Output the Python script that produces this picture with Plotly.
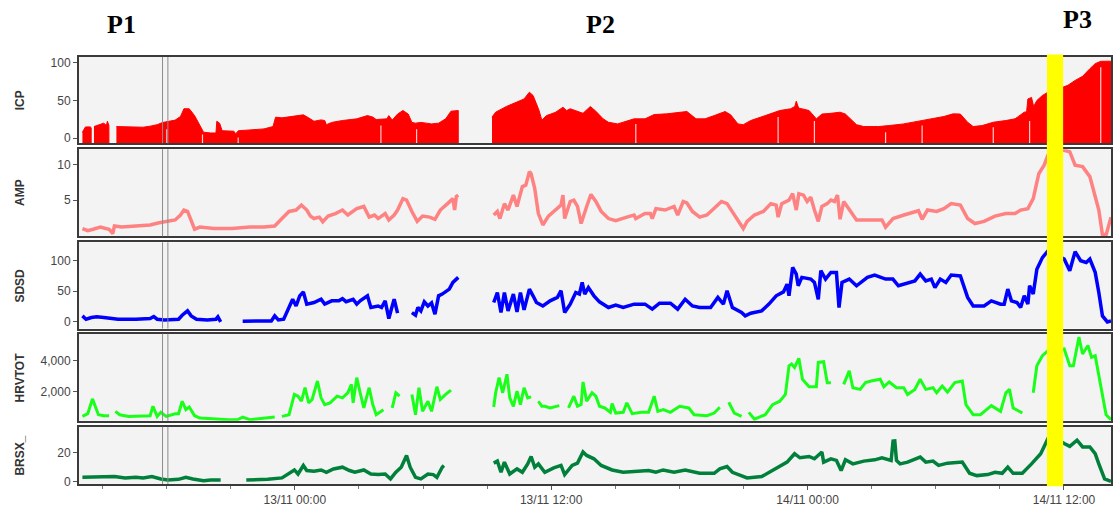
import pandas as pd
import plotly.graph_objects as go
from plotly.subplots import make_subplots

START = pd.Timestamp("2016-11-13 00:00")

# Hours relative to 13/11 00:00; a None value marks a recording gap.
icp_h = [-9.94, -9.80, -9.57, -9.53, -9.47,
         -9.40, -9.10, -8.94, -8.82, -8.77, -8.70, -8.55,
         -8.35, -7.94, -7.10, -6.77, -6.44, -6.19, -5.94, -5.60, -5.35, -5.19, -4.94, -4.69,
         -4.44, -4.27, -3.94, -3.69, -3.65, -3.52, -3.40, -3.10, -2.85, -2.77, -2.64, -2.10,
         -1.44, -1.02, -0.90, -0.60, -0.10, 0.40, 0.65, 0.90, 1.23, 1.40, 1.48, 1.73, 2.23,
         2.90, 3.40, 3.65, 3.81, 4.31, 4.40, 4.56, 4.81, 5.06, 5.31, 5.48, 5.65, 5.90, 6.40,
         6.73, 7.06, 7.31, 7.65, 8.50,
         9.23, 9.40, 9.90, 10.40, 10.73, 10.98, 11.15, 11.31, 11.44, 11.56, 11.78, 11.98,
         12.21, 12.55, 12.72, 12.89, 13.15, 13.49, 13.83, 14.09, 14.43, 14.68, 15.11, 15.54,
         15.88, 16.39, 16.82, 17.41, 18.01, 18.35, 18.78, 19.20, 19.63, 20.14, 20.40, 20.74,
         20.99, 21.34, 22.02, 22.70, 23.21, 23.40, 23.47, 23.58, 23.73, 24.07, 24.41, 24.67,
         25.09, 25.52, 25.77, 26.29, 26.63, 27.31, 27.82, 28.50, 29.19, 29.87, 30.38, 30.81,
         31.15, 31.49, 31.75, 32.17, 32.69, 33.28, 33.71, 34.14, 34.25, 34.31, 34.48, 34.58,
         34.73, 34.99, 35.25, 35.60, 35.96, 36.18, 36.52, 36.87, 37.21, 37.46, 37.72, 38.30]
icp_v = [8, 15, 15, 14, None,
         15.5, 18, 20, 17, 22.5, 17, None,
         15.5, 15.5, 14.6, 16, 18, 20.8, 22.5, 24, 28.8, 39, 39, 30,
         17, 8, 7, 7, 22.5, 20, 10, 9.3, 9.3, 5.8, 10, 11,
         12.4, 15.5, 27.9, 27, 28.8, 31, 27, 22.5, 24.3, 23.5, 18, 21, 23.5,
         25.7, 30, 28, 24.8, 25.7, 30, 24, 32, 36.7, 32, 21, 20, 21, 19,
         20, 25.7, 35.8, 36.7, None,
         28, 34.5, 42, 47.8, 52, 61, 56.6, 45.6, 36, 24, 30, 32,
         34.5, 41, 36.7, 39, 36.7, 33, 42, 35.8, 25.7, 21.2, 19, 22.6,
         25.7, 25.7, 31.4, 32.3, 34.5, 35.4, 25.7, 25.7, 30, 35.4, 31, 19,
         18, 23.5, 30, 36.7, 39, 42, 49, 40, 39, 36.7, 25.7, 32,
         33, 34.5, 32, 18, 15.5, 15.5, 16.8, 19, 22.6, 25.7, 28.8, 32.3,
         32, 21.2, 15.5, 16.8, 21.2, 23.5, 25.7, 34.5, 35, 52, 54, 42,
         50, 56.6, 61, 64, 67.7, 70, 76.5, 81.9, 92, 98.7, 101.8, 102]

# Short signal dropouts inside the ICP trace
icp_drop_h = [-5.99, -4.32, -2.65, 4.03, 5.70, 15.96, 22.62, 24.32, 27.65, 29.36, 32.69, 34.39, 37.72]
icp_drop_top = [12, 5, 1, 17, 12, 19, 28, 23, 8, 17, 14.6, 23, 94]

amp_h = [-9.94, -9.69, -9.44, -9.10, -8.85, -8.69, -8.52, -8.44, -8.10, -7.44, -6.77, -6.35,
         -5.94, -5.60, -5.35, -5.19, -5.02, -4.85, -4.69, -4.44, -3.77, -2.94, -2.10, -1.44,
         -0.94, -0.60, -0.27, 0.06, 0.31, 0.56, 0.73, 0.90, 1.15, 1.31, 1.56, 1.90, 2.23,
         2.48, 2.73, 2.90, 3.23, 3.48, 3.73, 3.90, 4.23, 4.40, 4.65, 4.81, 5.06, 5.23, 5.48,
         5.73, 5.98, 6.31, 6.56, 6.81, 7.15, 7.40, 7.48, 7.56, 7.65, 8.50,
         9.31, 9.48, 9.60, 9.81, 9.98, 10.23, 10.40, 10.65, 10.81, 10.98, 11.06, 11.23, 11.40,
         11.61, 11.87, 12.21, 12.46, 12.55, 12.63, 12.89, 13.06, 13.23, 13.40, 13.66, 13.86,
         14.09, 14.34, 14.68, 15.02, 15.54, 15.88, 15.96, 16.39, 16.64, 16.73, 16.90, 17.33,
         17.75, 17.92, 18.18, 18.35, 18.61, 18.95, 19.29, 19.63, 19.97, 20.23, 20.48, 20.74,
         20.99, 21.17, 21.51, 21.93, 22.28, 22.53, 22.62, 22.79, 23.13, 23.30, 23.47, 23.59,
         23.81, 23.98, 24.15, 24.32, 24.50, 24.67, 24.92, 25.09, 25.26, 25.40, 25.52, 25.69,
         25.95, 26.29, 26.80, 27.48, 27.65, 28.00, 28.51, 29.19, 29.36, 29.61, 30.04, 30.38,
         30.72, 31.15, 31.49, 31.83, 32.26, 32.77, 33.28, 33.71, 33.97, 34.31, 34.56, 34.82,
         35.07, 35.25, 35.60, 36.01, 36.27, 36.52, 36.87, 37.21, 37.46, 37.63, 37.80, 37.98, 38.20]
amp_v = [1.0, 0.7, 0.9, 1.2, 1.0, 0.9, 0.3, 1.35, 1.2, 1.35, 1.5, 1.8,
         2.0, 2.2, 2.9, 3.6, 3.4, 2.2, 0.9, 1.2, 1.0, 1.0, 1.2, 1.2,
         1.35, 2.4, 3.4, 3.6, 4.3, 3.6, 2.75, 2.4, 2.6, 1.96, 2.75, 3.1, 3.6,
         2.9, 3.4, 3.8, 4.1, 2.6, 2.9, 2.4, 3.1, 2.2, 2.9, 3.6, 5.2, 5.0, 3.4,
         2.0, 2.75, 2.6, 2.3, 3.6, 4.5, 5.2, 3.6, 5.5, 5.7, None,
         2.9, 3.4, 2.4, 4.5, 3.6, 5.7, 4.1, 6.9, 7.1, 9.0, 8.7, 6.6, 3.1,
         1.5, 2.75, 3.6, 4.3, 5.7, 2.4, 4.8, 5.0, 4.1, 1.7, 4.1, 5.8,
         4.8, 3.4, 2.4, 2.1, 2.6, 2.9, 2.4, 3.1, 3.1, 2.4, 3.8, 3.6,
         4.1, 2.9, 4.8, 4.6, 3.4, 2.6, 2.9, 3.8, 4.8, 4.5, 3.4, 2.2,
         1.0, 2.0, 2.9, 3.4, 4.5, 4.3, 2.6, 4.5, 5.0, 5.9, 3.6, 5.9,
         5.7, 4.8, 5.4, 3.6, 2.0, 4.1, 4.5, 5.0, 4.8, 5.7, 2.3, 4.8,
         3.6, 2.2, 2.2, 2.2, 1.2, 2.4, 2.9, 3.5, 2.3, 3.6, 3.4, 3.8,
         4.5, 4.3, 2.4, 1.7, 2.0, 2.75, 3.1, 3.1, 3.6, 3.8, 5.2, 8.7,
         9.9, 11.3, 12.0, 12.0, 11.8, 9.9, 9.7, 8.3, 5.5, 3.6, 0.1, 0.2, 2.6]

sdsd_h = [-9.94, -9.77, -9.52, -9.27, -8.94, -8.60, -8.27, -7.44, -6.77, -6.60, -6.44, -6.10,
          -5.44, -5.27, -5.02, -4.85, -4.60, -4.10, -3.69, -3.60, -3.47, -3.00,
          -2.44, -1.77, -1.10, -0.94, -0.77, -0.52, -0.27, -0.10, 0.06, 0.23, 0.40, 0.56,
          0.90, 1.23, 1.40, 1.73, 2.06, 2.23, 2.40, 2.73, 2.90, 3.06, 3.40, 3.56, 3.90, 4.06,
          4.23, 4.40, 4.56, 4.65, 4.81, 5.10,
          5.48, 5.65, 5.76, 5.90, 6.06, 6.23, 6.40, 6.56, 6.73, 6.90, 7.23, 7.40, 7.65, 8.50,
          9.31, 9.48, 9.65, 9.81, 9.98, 10.23, 10.40, 10.56, 10.73, 10.98, 11.15, 11.31,
          11.61, 11.95, 12.29, 12.46, 12.63, 12.89, 13.15, 13.32, 13.45, 13.57, 13.74, 14.00,
          14.26, 14.68, 15.02, 15.37, 15.88, 16.39, 16.73, 17.07, 17.58, 17.92, 18.27, 18.61,
          18.95, 19.46, 19.80, 20.06, 20.23, 20.48, 20.91, 21.08, 21.34, 21.85, 22.19, 22.53,
          22.87, 23.04, 23.13, 23.30, 23.47, 23.56, 23.73, 24.15, 24.32, 24.50, 24.62, 24.84,
          25.09, 25.35, 25.47, 25.61, 25.95, 26.29, 26.80, 27.14, 27.65, 27.99, 28.25, 28.51,
          29.02, 29.27, 29.53, 29.79, 29.96, 30.21, 30.47, 30.72, 31.15, 31.49, 31.75, 32.26,
          32.60, 33.03, 33.20, 33.37, 33.54, 33.80, 33.97, 34.14, 34.31, 34.39, 34.56, 34.73,
          34.99, 35.25, 35.60, 36.01, 36.27, 36.52, 36.78, 37.04, 37.21, 37.46, 37.63, 37.80,
          38.03, 38.20]
sdsd_v = [9.8, 4.4, 7.1, 8.2, 7.1, 5.5, 4.4, 4.4, 5.5, 8.7, 4.4, 3.3,
          4.4, 10.9, 18, 9.8, 4.4, 3.3, 4.4, 8.2, 0, None,
          1.1, 1.1, 1.6, 9.8, 3.3, 4.4, 21.9, 37, 26, 42.6, 49, 29,
          31.7, 37, 29, 34.4, 34.4, 38, 33, 37, 29, 34.4, 42.6, 23.5, 26, 23.5,
          34.4, 5.5, 26, 37, 14.2, None,
          15.3, 10.9, 23.5, 18, 32.8, 26, 31, 12.6, 42.6, 45.4, 53.6, 64.5, 72.7, None,
          31.7, 48, 15.3, 48, 18, 45.4, 16.4, 48, 19.7, 53.6, 42.6, 31.7,
          26, 34.4, 40, 51, 15.3, 29, 48, 45.4, 64.5, 45.4, 56, 42.6,
          32.8, 23.5, 27.3, 23.5, 29, 29, 20.8, 30.6, 30.6, 20.8, 37, 26,
          23.5, 23.5, 40, 29, 51, 23.5, 15.3, 9.8, 14.2, 18, 29, 42.6,
          49, 61.7, 42.6, 89, 78, 59, 72.7, 70, 64.5, 37, 83.6, 70,
          80.9, 80.9, 23.5, 64.5, 70, 59, 72.7, 76.5, 70, 70, 59, 61.7,
          67, 78, 67, 70, 56, 70, 64.5, 76.5, 75, 40, 26, 26,
          34.4, 29, 29, 53.6, 34.4, 31.7, 23.5, 42.6, 29, 59, 45.4, 86,
          105, 116, 110, 102.7, 83.6, 114.8, 100, 97, 102.7, 81, 48, 9.8,
          0, 1.6]

hrv_h = [-9.94, -9.69, -9.47, -9.35, -9.19, -8.94, -8.69, -8.55,
         -8.40, -8.19, -7.77, -7.10, -6.77, -6.64, -6.44, -6.27, -6.02, -5.60, -5.44, -5.27,
         -5.10, -4.94, -4.69, -4.44, -3.77, -3.10, -2.69, -2.44, -2.10, -1.44, -1.10, -0.94, -0.77,
         -0.60, -0.27, -0.02, 0.15, 0.31, 0.48, 0.65, 0.81, 1.06, 1.23, 1.40, 1.65, 1.98,
         2.23, 2.48, 2.65, 2.73, 2.90, 3.06, 3.23, 3.48, 3.65, 3.81, 4.15, 4.35,
         4.56, 4.73, 4.90, 5.20,
         5.48, 5.65, 5.81, 5.98, 6.23, 6.40, 6.65, 6.81, 7.06, 7.31, 8.30,
         9.31, 9.40, 9.56, 9.73, 9.93, 10.06, 10.23, 10.40, 10.56, 10.73, 10.90, 11.06, 11.20,
         11.40, 11.56, 11.70, 11.95, 12.38, 12.60,
         12.81, 13.06, 13.23, 13.40, 13.49, 13.66, 13.91, 14.09, 14.26, 14.51, 14.77, 14.85,
         15.02, 15.37, 15.54, 15.79, 16.22, 16.56, 16.82, 16.99, 17.24, 17.58, 18.01, 18.44,
         18.69, 19.29, 19.63, 19.89, 20.10,
         20.31, 20.57, 20.91, 21.10,
         21.25, 21.51, 22.02, 22.36, 22.70, 22.96, 23.13, 23.25, 23.39, 23.59, 23.76, 24.07,
         24.41, 24.50, 24.75, 24.92, 25.09, 25.40,
         25.69, 25.95, 26.12, 26.46, 26.71, 26.97, 27.40, 27.57, 27.82, 28.16, 28.50, 28.68,
         29.02, 29.27, 29.53, 29.87, 30.04, 30.30, 30.55, 30.89, 31.24, 31.41, 31.75, 32.09,
         32.60, 33.03, 33.28, 33.45, 33.62, 34.05, 34.30,
         34.56, 34.73, 34.99, 35.25, 35.60, 36.01, 36.27, 36.44, 36.70, 36.87, 37.12, 37.29,
         37.46, 37.63, 37.80, 37.97, 38.20]
hrv_v = [413, 587, 1543, 1065, 522, 457, 457, None,
         739, 522, 413, 413, 457, 1065, 413, 674, 413, 587, 587, 1391,
         848, 1022, 457, 304, 239, 196, 196, 370, 196, 283, 370, 370, None,
         413, 522, 1826, 1717, 1391, 2261, 1283, 1500, 2696, 1609, 1174, 1283, 1717,
         1609, 1935, 2478, 1283, 2913, 1935, 957, 2261, 1174, 522, 848, None,
         957, 1935, 1717, None,
         1826, 522, 2261, 739, 1391, 739, 2326, 1500, 1826, 2109, None,
         1022, 1935, 2913, 1935, 3130, 1609, 1065, 2043, 1174, 2261, 1609, 1674, None,
         1391, 1065, 1065, 957, 1109, None,
         957, 1717, 1065, 1174, 2630, 1391, 1935, 1717, 1065, 957, 674, 1239,
         630, 674, 1283, 587, 674, 674, 1717, 739, 848, 674, 1065, 957,
         522, 457, 630, 1000, None,
         1326, 630, 413, None,
         674, 239, 522, 1174, 1391, 1826, 3674, 3783, 3565, 4152, 2804, 2326,
         2326, 3891, 3935, 2587, 2587, None,
         2478, 3348, 2261, 2152, 2587, 2696, 2804, 2326, 2630, 2261, 2261, 1826,
         2152, 2804, 2152, 2261, 1935, 2370, 1978, 2587, 2696, 1174, 522, 522,
         1109, 739, 1935, 2152, 957, 630, None,
         1935, 3674, 4326, 4652, 4700, 4761, 3674, 3674, 5522, 4435, 4978, 4217,
         4326, 3022, 1717, 522, 196]

brs_h = [-9.94, -9.10, -8.44, -7.94, -7.44, -7.10, -6.69, -6.27, -5.94, -5.44, -5.10, -4.77,
         -4.27, -3.94, -3.47, -2.90,
         -2.27, -1.27, -0.60, -0.27, -0.02, 0.15, 0.40, 0.56, 0.90, 1.23, 1.48, 1.81, 2.23,
         2.56, 2.81, 3.23, 3.56, 3.90, 4.23, 4.48, 4.73, 4.98, 5.23, 5.40, 5.65, 5.90, 6.23,
         6.48, 6.65, 6.90, 6.98, 8.00,
         9.31, 9.48, 9.65, 9.81, 10.06, 10.40, 10.65, 10.90, 11.06, 11.23, 11.40, 11.70,
         12.12, 12.46, 12.63, 12.98, 13.23, 13.49, 13.66, 14.00, 14.34, 14.85, 15.37, 15.88,
         16.56, 16.90, 17.24, 17.75, 18.27, 18.95, 19.63, 19.89, 20.23, 20.48, 21.17, 21.85,
         22.36, 23.04, 23.39, 23.64, 24.07, 24.32, 24.67, 24.75, 25.09, 25.35, 25.57, 25.77,
         26.12, 26.63, 27.14, 27.48, 27.91, 28.00, 28.08, 28.16, 28.33, 28.68, 29.27, 29.53,
         29.87, 30.13, 30.55, 31.24, 31.58, 31.92, 32.43, 32.77, 33.11, 33.37, 33.62, 34.05,
         34.48, 34.91, 35.25, 35.60, 36.01, 36.27, 36.61, 36.87, 37.21, 37.46, 37.63, 37.90,
         38.20]
brs_v = [3.0, 3.0, 3.5, 2.6, 3.0, 2.6, 3.5, 1.9, 1.2, 1.6, 3.0, 1.9,
         0.7, 1.2, 1.2, None,
         1.2, 1.6, 2.6, 5.8, 8.1, 5.3, 11.2, 7.7, 7.2, 8.1, 6.5, 8.8, 10,
         7.7, 6.5, 8.1, 5.3, 4.9, 5.3, 1.9, 6.5, 10, 18.1, 10, 3.0, 1.9, 5.3,
         4.9, 3.0, 10, 11.2, None,
         12.8, 14.2, 6.5, 13.5, 5.3, 8.8, 6.5, 12.3, 17.4, 10, 12.3, 6.5,
         9.5, 11.2, 4.9, 11.2, 12.8, 20.5, 18.1, 15.8, 11.2, 8.1, 6.5, 7.2,
         7.7, 6.5, 8.1, 6.5, 8.1, 5.8, 5.8, 8.8, 10.5, 6.5, 2.6, 3.5,
         7.7, 13.5, 19.3, 16.5, 17.4, 15.8, 20.5, 13.5, 15.8, 14.7, 7.7, 15.1,
         12.3, 14.2, 15.1, 16.5, 14.7, 28, 28.1, 14.7, 12.3, 13.5, 17, 13.5,
         14.2, 11.2, 12.8, 13.5, 5.8, 4.2, 4.9, 6.5, 5.8, 10, 5.8, 5.8,
         12.3, 19.3, 29.8, 30, 26.3, 24.4, 28.6, 24, 24, 19.3, 12.3, 1.9,
         0.2]

# Period markers and the highlighted interval (hours from 13/11 00:00)
marker_h = [-6.19, -5.94]
highlight_h = [35.2, 35.96]
x_range_h = [-10.1, 38.2]
major_tick_h = [0, 12, 24, 36]

period_labels = ["P1", "P2", "P3"]
period_label_h = [-8.1, 14.3, 36.65]

panel_names = ["ICP", "AMP", "SDSD", "HRVTOT", "BRSX_"]
panel_ranges = [[-6.6, 107.5], [-0.1, 12.15], [-10.9, 130], [130, 5740], [-1.6, 37.9]]
panel_ticks = [[0, 50, 100], [5, 10], [0, 50, 100], [2000, 4000], [0, 20]]
panel_domains = [[0.798, 1.0], [0.580, 0.784], [0.364, 0.566], [0.148, 0.352], [0.0, 0.134]]


def to_time(hours):
    return [START + pd.Timedelta(hours=h) for h in hours]


def segments(hours, values):
    seg_h, seg_v, out = [], [], []
    for h, v in zip(hours, values):
        if v is None:
            if seg_h:
                out.append((seg_h, seg_v))
            seg_h, seg_v = [], []
        else:
            seg_h.append(h)
            seg_v.append(v)
    if seg_h:
        out.append((seg_h, seg_v))
    return out


fig = make_subplots(rows=5, cols=1, shared_xaxes=True)

# ICP drawn as a filled area down to the bottom of its panel
icp_floor = panel_ranges[0][0] - 1
for seg_h, seg_v in segments(icp_h, icp_v):
    xs = to_time(seg_h) + to_time(seg_h[::-1])
    ys = seg_v + [icp_floor] * len(seg_v)
    fig.add_trace(go.Scatter(x=xs, y=ys, fill="toself", fillcolor="#ff0000",
                             line=dict(color="#ff0000", width=1), mode="lines",
                             hoverinfo="skip", showlegend=False), row=1, col=1)

drop_x, drop_y = [], []
for t, top in zip(to_time(icp_drop_h), icp_drop_top):
    drop_x += [t, t, None]
    drop_y += [icp_floor, top, None]
fig.add_trace(go.Scatter(x=drop_x, y=drop_y, mode="lines",
                         line=dict(color="rgba(255,255,255,0.8)", width=1.2),
                         hoverinfo="skip", showlegend=False), row=1, col=1)

line_series = [
    (amp_h, amp_v, "#ff8282", 2, 3.5),
    (sdsd_h, sdsd_v, "#0000ff", 3, 3.5),
    (hrv_h, hrv_v, "#1aff1a", 4, 3),
    (brs_h, brs_v, "#00803a", 5, 3.5),
]
for hs, vs, color, row, lw in line_series:
    fig.add_trace(go.Scatter(x=to_time(hs), y=vs, mode="lines",
                             line=dict(color=color, width=lw),
                             connectgaps=False, showlegend=False), row=row, col=1)

tick_font = dict(family="Liberation Sans Narrow, Arial Narrow, Liberation Sans, Arial",
                 size=12, color="#444444")

for i in range(5):
    yname = "yaxis" if i == 0 else f"yaxis{i + 1}"
    fig.layout[yname].update(
        domain=panel_domains[i], range=panel_ranges[i], tickvals=panel_ticks[i],
        tickformat=",", ticks="outside", ticklen=4, tickcolor="#555555",
        tickfont=tick_font, showgrid=False, zeroline=False,
        showline=True, linecolor="#3a3a3a", linewidth=2, mirror=True)

t_range = to_time(x_range_h)
for i in range(5):
    xname = "xaxis" if i == 0 else f"xaxis{i + 1}"
    last = i == 4
    fig.layout[xname].update(
        range=t_range, type="date", showgrid=False, zeroline=False,
        showline=True, linecolor="#3a3a3a", linewidth=2, mirror=True,
        tickmode="array", tickvals=to_time(major_tick_h), tickformat="%d/%m %H:%M",
        showticklabels=last, ticks="outside" if last else "", ticklen=4,
        tickcolor="#555555", tickfont=tick_font,
        minor=dict(dtick=3 * 3600 * 1000, tick0=START, ticks="outside" if last else "",
                   ticklen=3, tickcolor="#777777"))

shapes = []
for i in range(5):
    yref = "y domain" if i == 0 else f"y{i + 1} domain"
    xref = "x" if i == 0 else f"x{i + 1}"
    for t in to_time(marker_h):
        shapes.append(dict(type="line", xref=xref, yref=yref, x0=t, x1=t, y0=0, y1=1,
                           line=dict(color="#8c8c8c", width=1), layer="above"))
hl = to_time(highlight_h)
shapes.append(dict(type="rect", xref="x5", yref="paper", x0=hl[0], x1=hl[1],
                   y0=-0.005, y1=1.006, fillcolor="#ffff00", line=dict(width=0),
                   layer="above"))

annotations = []
for i, name in enumerate(panel_names):
    d = panel_domains[i]
    annotations.append(dict(text=f"<b>{name}</b>", xref="paper", yref="paper",
                            x=-0.057, y=(d[0] + d[1]) / 2, textangle=-90,
                            showarrow=False, xanchor="center", yanchor="middle",
                            font=dict(family="Liberation Sans, Arial", size=12,
                                      color="#333333")))
for label, h, ypos in zip(period_labels, period_label_h, [1.077, 1.077, 1.087]):
    annotations.append(dict(text=f"<b>{label}</b>", xref="x5", yref="paper",
                            x=to_time([h])[0], y=ypos, showarrow=False,
                            xanchor="center", yanchor="middle",
                            font=dict(family="Liberation Serif, Times New Roman, serif",
                                      size=26, color="#000000")))

fig.update_layout(
    width=1113, height=510,
    margin=dict(l=79, r=0, t=57, b=26),
    paper_bgcolor="#ffffff", plot_bgcolor="#f3f3f3",
    shapes=shapes, annotations=annotations,
    showlegend=False,
)

fig.write_html("out.html")
